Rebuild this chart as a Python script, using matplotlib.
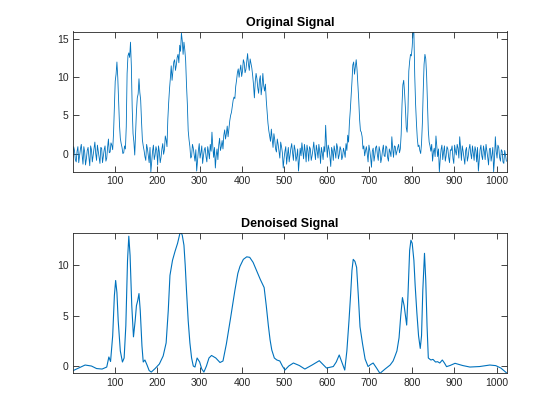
import numpy as np
import matplotlib
matplotlib.use("Agg")
import matplotlib.pyplot as plt

# Noisy signal read at x = 1, 5, 9, ..., 1021
noisy_a = [
    -0.5, 0.4, -1.1, 0.9, -0.3, 1.2, -1.4, 0.2, -0.7, 0.8,
    -1.6, 0.5, -0.2, 1.5, -0.9, 0.3, -1.3, 0.7, -0.4, 1.0,
    -0.6, 1.9, 0.2, 1.1, 2.6, 9.5, 12.0, 7.0, 2.0, 0.8,
    0.1, 0.6, 10.5, 13.2, 14.6, 6.0, 1.5, 2.5, 7.3, 9.8,
    7.0, 1.8, 0.4, -0.9, 0.6, -1.2, -2.4, 0.3, -0.8, 0.9,
    -1.5, 0.2, -0.5, 1.3, 0.5, 1.8, 4.5, 8.5, 11.5, 10.8,
    12.3, 11.6, 13.0, 14.2, 15.8, 13.0, 13.6, 9.0, 3.0, 0.9,
    -0.4, 0.7, -1.0, -2.3, 0.4, -0.6, 1.0, -0.3, 0.8, -1.1,
    0.2, 1.2, 2.8, -0.5, -1.9, 0.6, 1.1, 0.4, 1.7, 2.4,
    1.9, 3.6, 3.2, 5.0, 6.2, 7.4, 8.8, 10.6, 10.0, 11.6,
    10.8, 11.9, 11.0, 13.1, 10.9, 11.8, 10.2, 7.3, 10.5, 8.6,
    9.6, 7.7, 10.5, 8.2, 7.0, 4.0, 2.3, 3.2, 0.8, 1.8,
    0.2, 1.2, -0.6, 0.9, -1.9, 0.3, -1.4, 0.8, -0.2, 1.3,
    -0.9, 0.5, -0.4, -2.3, 0.7, 1.4, -0.7, 0.2, 1.1, -1.0,
    0.6, -0.3, 1.5, -0.8, 0.4, 1.2, -1.3, 0.1, 0.9, 3.7,
    -0.5, 0.6, -1.7, 0.3, 1.0, -0.6, 0.8, -0.2, 0.5, -0.4,
    0.2, 1.3, 2.4, 4.0, 7.5, 11.6, 10.4, 12.3, 9.0, 4.5,
    2.8, 0.6, -0.3, 0.9, -1.1, 0.4, -1.8, 0.7, -0.2, 1.0,
    -0.9, 0.3, -0.6, 1.1, -0.4, 0.8, -1.0, 0.2, 2.2, -0.5,
    0.9, 0.3, 1.2, 0.6, 6.4, 9.6, 6.0, 2.8, 10.8, 13.0,
    14.0, 15.8, 6.5, 2.0, 1.1, 0.0, 4.0, 11.7, 12.4, 6.5,
    1.5, 0.3, -1.0, 0.7, 2.3, -0.4, -2.4, 0.5, -0.8, 1.0,
    -0.3, 0.6, -1.2, 0.4, -0.6, 1.1, -0.2, 0.7, 2.2, -0.9,
    0.3, -1.4, 0.8, -0.4, 1.2, -0.7, 0.1, 0.9, -1.1, -2.3,
    0.5, -0.3, 1.0, -0.8, 0.4, -1.5, 0.7, -0.2, -2.4, 2.2,
    -0.6, 0.8, -1.0, 0.3, -1.3, -0.2,
]
# Noisy signal read at x = 3, 7, 11, ..., 1023
noisy_b = [
    0.9, -0.8, 0.3, -1.2, 0.6, -0.2, 0.9, -1.5, 0.4, -0.5,
    1.0, -1.1, 0.7, 0.0, 1.1, -0.5, 0.8, -1.2, 0.5, -1.0,
    0.8, 0.1, 1.4, 0.5, 6.0, 10.4, 10.0, 3.8, 1.3, 0.0,
    1.0, 3.5, 12.8, 12.6, 11.5, 2.6, -0.2, 5.5, 7.8, 8.0,
    4.2, 1.0, -0.4, 1.2, -0.3, 0.8, -1.0, 1.1, -0.2, 0.4,
    1.0, -1.2, 0.6, -0.1, 2.3, 0.9, 6.7, 9.9, 9.6, 12.0,
    10.9, 12.6, 11.9, 13.4, 14.8, 14.6, 12.2, 6.5, 1.8, -0.6,
    1.2, -0.2, 0.5, -0.9, 1.3, 0.1, -1.3, 0.5, -0.4, 0.9,
    -0.7, 0.3, 0.9, 0.8, -0.3, -0.8, 2.0, 0.9, 0.6, 3.1,
    2.6, 2.2, 4.3, 5.4, 7.0, 7.2, 9.6, 11.1, 10.9, 10.1,
    12.3, 10.6, 12.0, 11.7, 12.4, 11.2, 9.0, 9.4, 9.8, 7.9,
    10.2, 8.8, 8.9, 9.1, 5.4, 3.0, 1.6, 1.9, 2.6, 0.6,
    1.9, 0.3, 1.5, 0.1, -0.6, 0.9, -0.2, -1.1, 0.7, 0.1,
    1.1, -1.0, 0.6, -0.8, -0.3, 0.3, 1.2, -1.1, 0.4, 0.9,
    -0.9, 0.5, 0.2, 1.1, -0.6, 0.3, 0.8, -0.8, 0.2, 1.2,
    1.1, -0.4, 0.8, -0.9, 0.3, 1.3, -0.7, 0.9, -0.8, 0.7,
    -0.5, 0.4, 1.5, 5.6, 9.4, 12.0, 11.3, 11.0, 7.0, 3.0,
    2.2, 1.0, 0.4, 0.0, 1.1, -0.5, 0.3, -1.0, 0.8, -0.2,
    0.9, -1.2, 0.4, -0.3, 1.0, -0.5, 0.6, -0.4, 0.7, 1.0,
    -0.2, 0.8, 0.1, 2.5, 9.0, 8.0, 3.4, 5.5, 12.1, 12.8,
    16.0, 10.2, 4.0, 0.9, 0.4, 1.3, 8.2, 13.0, 10.2, 3.0,
    1.0, 1.2, 0.2, -0.4, 0.9, 0.6, -0.8, 1.1, 0.2, -1.0,
    0.9, -0.5, 0.5, 1.0, -1.3, 0.3, 1.2, -0.6, 0.8, 1.0,
    -0.5, 0.4, -1.0, 0.6, 0.0, 1.0, -0.9, 0.4, 0.8, -0.9,
    1.1, -0.8, 0.3, 1.2, -0.5, 0.6, -1.0, 0.8, -0.7, 0.3,
    1.1, -0.5, 0.5, -1.1, 0.4, -1.0,
]
noisy = np.empty(len(noisy_a) + len(noisy_b))
noisy[0::2] = noisy_a
noisy[1::2] = noisy_b
noisy_x = np.arange(1, 1024, 2)

# Denoised signal: sample positions and values
den_x = [1, 15, 30, 45, 57, 70, 81, 86, 90, 95, 99, 102, 105, 108, 113, 118,
         122, 126, 130, 133, 136, 140, 144, 148, 151, 154, 157, 160, 164, 167,
         171, 176, 181, 186, 195, 205, 214, 221, 226, 230, 236, 242, 248, 253,
         256, 259, 263, 266, 269, 273, 277, 281, 285, 289, 294, 300, 305, 310,
         316, 322, 328, 338, 348, 355, 363, 373, 383, 390, 395, 403, 411, 418,
         426, 434, 443, 452, 457, 462, 466, 470, 476, 482, 489, 495, 501, 510,
         521, 535, 548, 565, 582, 599, 615, 622, 629, 636, 642, 647, 652, 656,
         659, 662, 666, 670, 674, 678, 684, 690, 697, 703, 709, 717, 725, 737,
         749, 756, 760, 765, 770, 774, 778, 782, 788, 791, 795, 798, 801, 805,
         808, 812, 816, 820, 823, 826, 830, 833, 836, 839, 845, 850, 856, 861,
         866, 872, 877, 882, 890, 902, 920, 937, 960, 984, 998, 1010, 1024]
den_y = [-0.47, -0.2, 0.1, 0.0, -0.25, -0.3, -0.1, 0.9, 0.45, 3.0, 7.0, 8.5,
         7.3, 4.5, 1.5, 0.4, 0.8, 4.0, 10.5, 12.9, 11.0, 6.0, 2.9, 4.5, 6.0,
         6.5, 7.2, 5.5, 2.0, 0.4, 0.6, 0.1, -0.45, -0.6, -0.25, 0.2, 1.0, 2.3,
         5.5, 9.0, 10.5, 11.4, 12.2, 13.1, 13.3, 13.0, 12.0, 10.0, 7.5, 4.5,
         2.3, 0.8, 0.0, -0.1, 0.8, 0.4, -0.3, -0.6, 0.0, 0.8, 1.05, 0.8, 0.35,
         0.5, 2.2, 4.8, 7.5, 9.2, 9.9, 10.6, 10.85, 10.8, 10.3, 9.5, 8.6, 7.8,
         6.0, 4.0, 2.6, 1.6, 0.8, 0.6, 0.5, 0.0, -0.4, 0.0, 0.3, 0.05, -0.3,
         0.1, 0.53, -0.2, -0.05, 0.4, 1.1, 0.3, -0.4, 1.5, 4.5, 7.2, 9.5, 10.6,
         10.4, 9.8, 7.0, 3.9, 2.2, 0.7, -0.05, 0.15, 0.3, -0.2, -0.73, -0.3,
         0.1, 0.5, 0.93, 1.5, 2.8, 5.0, 6.8, 6.0, 4.07, 7.0, 11.5, 12.5, 12.2,
         10.5, 8.0, 5.3, 3.0, 1.75, 3.0, 7.5, 11.2, 8.5, 4.0, 0.8, 0.6, 0.66,
         0.4, 0.43, 0.3, 0.6, 0.3, -0.06, 0.05, 0.27, 0.05, -0.1, -0.05, 0.1,
         0.04, -0.2, -0.7]

x_ticks = [100, 200, 300, 400, 500, 600, 700, 800, 900, 1000]
top_yticks = [0, 5, 10, 15]
bot_yticks = [0, 5, 10]
titles = ["Original Signal", "Denoised Signal"]

plt.rcParams['font.family'] = ['Liberation Sans', 'DejaVu Sans']
line_color = '#0072BD'
axis_color = '#262626'

fig = plt.figure(figsize=(5.6, 4.2), dpi=100)
ax1 = fig.add_axes([0.13, 0.590, 0.775, 0.335])
ax2 = fig.add_axes([0.13, 0.111, 0.775, 0.335])

ax1.plot(noisy_x, noisy, color=line_color, lw=0.6)
ax2.plot(den_x, den_y, color=line_color, lw=0.8)

ax1.set_ylim(-2.45, 16.0)
ax2.set_ylim(-0.73, 13.25)
for ax, yt, t in [(ax1, top_yticks, titles[0]), (ax2, bot_yticks, titles[1])]:
    ax.set_xlim(1, 1024)
    ax.set_xticks(x_ticks)
    ax.set_yticks(yt)
    ax.tick_params(direction='in', length=4, width=0.6, colors=axis_color,
                   labelsize=7.5, top=True, right=True, pad=3)
    for s in ax.spines.values():
        s.set_color(axis_color)
        s.set_linewidth(0.6)
    ax.set_title(t, fontsize=9, fontweight='bold', color='black', pad=4)

fig.savefig("out.png", dpi=100)
